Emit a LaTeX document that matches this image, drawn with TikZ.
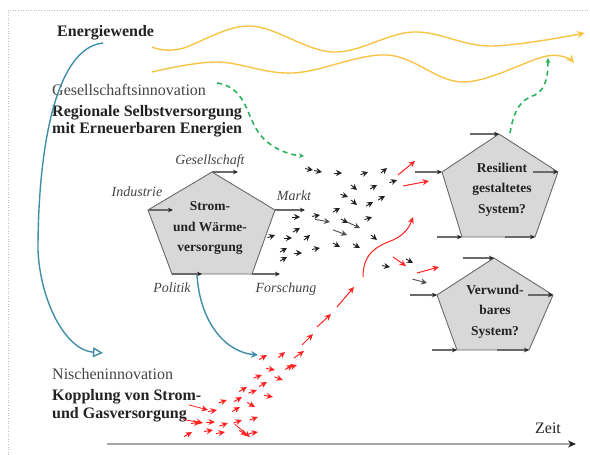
\documentclass[tikz,border=0pt]{standalone}
\usepackage{fontspec}
\setmainfont{Liberation Serif}
\usetikzlibrary{arrows.meta,calc}
\definecolor{yel}{HTML}{F8C446}
\definecolor{bluec}{HTML}{3F8FA8}
\definecolor{grn}{HTML}{2BB35A}
\definecolor{pfill}{HTML}{D8D8D8}
\definecolor{pline}{HTML}{6A6A6A}
\definecolor{txt}{HTML}{222222}
\definecolor{gtxt}{HTML}{444444}
\definecolor{redc}{HTML}{FF2020}
\tikzset{
  big/.style={font=\fontsize{16}{18}\selectfont, inner sep=0pt, anchor=base west, text=txt},
  bigb/.style={big, font=\fontsize{16}{18}\selectfont\bfseries},
  lab/.style={font=\fontsize{14}{16}\selectfont\itshape, inner sep=0pt, anchor=base, text=gtxt},
  ptxt/.style={font=\fontsize{13.5}{16}\selectfont\bfseries, inner sep=0pt, anchor=base, text=txt},
  pent/.style={draw=pline, fill=pfill, line width=0.9pt, line join=round},
  parr/.style={draw=pline, line width=1.1pt, -{Stealth[length=5pt,width=4.5pt,color=txt]}},
  blk/.style={draw=txt, line width=0.9pt, -{Stealth[length=6pt,width=6pt]}},
  redarr/.style={draw=redc, line width=1pt, -{Stealth[length=6.5pt,width=6pt]}},
  wave/.style={draw=yel, line width=1.4pt, -{Stealth[length=8pt,width=7pt]}},
  gdash/.style={draw=grn, line width=1.6pt, dash pattern=on 5pt off 4pt, -{Stealth[length=5pt,width=5pt]}},
  barc/.style={draw=bluec, line width=1.4pt}
}
\begin{document}
\begin{tikzpicture}[x=1pt,y=-1pt]
\useasboundingbox (0,0) rectangle (590,455);
% frame
\draw[dotted, draw=gray!50, line width=0.6pt] (8,455) -- (8,10) -- (590,10);

% texts
\node[bigb] (ew) at (57,36) {Energiewende};
\node[big, text=gtxt] (g1) at (52,95) {Gesellschaftsinnovation};
\node[bigb] (g2) at (52,116) {Regionale Selbstversorgung};
\node[bigb] (g3) at (52,133) {mit Erneuerbaren Energien};
\node[big, text=gtxt] (n1) at (52,379) {Nischeninnovation};
\node[bigb] (n2) at (52,400) {Kopplung von Strom-};
\node[bigb] (n3) at (52,418) {und Gasversorgung};

% yellow waves
\coordinate (w1s) at (152,47);
\coordinate (w1e) at (585,33);
\coordinate (w2s) at (152,72);
\coordinate (w2e) at (574,63);
\draw[wave] plot[smooth, tension=0.6] coordinates {(w1s) (180,49) (250,26) (333,52) (413,32) (490,46) (w1e)};
\draw[wave] plot[smooth, tension=0.6] coordinates {(w2s) (217,62) (293,73) (387,55) (463,82) (547,56) (w2e)};

% blue arcs
\coordinate (b1s) at (103,43);
\coordinate (b1e) at (103,353);
\draw[barc, -{Triangle[open,length=10pt,width=10pt]}] (b1s) .. controls (55,48) and (38,150) .. (38,250) .. controls (40,300) and (65,350) .. (b1e);

% left pentagon
\coordinate (LT) at (212,172);
\coordinate (LL) at (148,210);
\coordinate (LR) at (275,210);
\coordinate (LBL) at (172,274);
\coordinate (LBR) at (252,274);
\draw[pent] (LT) -- (LR) -- (LBR) -- (LBL) -- (LL) -- cycle;
\coordinate (LTa) at (238,172);
\coordinate (LLa) at (173,210);
\coordinate (LRa) at (305,210);
\coordinate (LBm) at (202,274);
\coordinate (LBa) at (280,274);
\draw[parr] (LT) -- (LTa);
\draw[parr] (LL) -- (LLa);
\draw[parr] (LR) -- (LRa);
\draw[parr] (LBL) -- (LBm);
\draw[parr] (LBR) -- (LBa);
\node[ptxt] (s1) at (210,210) {Strom-};
\node[ptxt] (s2) at (210,231) {und Wärme-};
\node[ptxt] (s3) at (210,251) {versorgung};
\node[lab] (lg) at (210,164) {Gesellschaft};
\node[lab] (li) at (137,196) {Industrie};
\node[lab] (lm) at (294,200) {Markt};
\node[lab] (lp) at (172,292) {Politik};
\node[lab] (lf) at (286,292) {Forschung};

% blue arc 2
\coordinate (b2s) at (197,275);
\coordinate (b2e) at (258,355);
\draw[barc, -{Stealth[length=7pt,width=7pt]}] (b2s) .. controls (200,322) and (225,352) .. (b2e);

% resilient pentagon
\coordinate (RT) at (499,134);
\coordinate (RL) at (442,172);
\coordinate (RR) at (558,172);
\coordinate (RBL) at (462,237);
\coordinate (RBR) at (535,237);
\draw[pent] (RT) -- (RR) -- (RBR) -- (RBL) -- (RL) -- cycle;
\coordinate (RTa) at (470,134);
\coordinate (RLa) at (415,172);
\coordinate (RRa) at (533,172);
\coordinate (RBa) at (437,237);
\coordinate (RBm) at (505,237);
\draw[parr] (RTa) -- (RT);
\draw[parr] (RLa) -- (RL);
\draw[parr] (RRa) -- (RR);
\draw[parr] (RBa) -- (RBL);
\draw[parr] (RBm) -- (RBR);
\node[ptxt] (r1) at (502,172) {Resilient};
\node[ptxt] (r2) at (502,192) {gestaltetes};
\node[ptxt] (r3) at (502,213) {System?};

% vulnerable pentagon
\coordinate (VT) at (494,258);
\coordinate (VL) at (437,295);
\coordinate (VR) at (553,295);
\coordinate (VBL) at (457,350);
\coordinate (VBR) at (529,350);
\draw[pent] (VT) -- (VR) -- (VBR) -- (VBL) -- (VL) -- cycle;
\coordinate (VTa) at (463,258);
\coordinate (VLa) at (410,295);
\coordinate (VRa) at (528,295);
\coordinate (VBa) at (432,350);
\coordinate (VBm) at (497,350);
\draw[parr] (VTa) -- (VT);
\draw[parr] (VLa) -- (VL);
\draw[parr] (VRa) -- (VR);
\draw[parr] (VBa) -- (VBL);
\draw[parr] (VBm) -- (VBR);
\node[ptxt] (v1) at (495,294) {Verwund-};
\node[ptxt] (v2) at (495,314) {bares};
\node[ptxt] (v3) at (495,335) {System?};

% green dashed
\coordinate (gd1s) at (217,83);
\coordinate (gd1e) at (304,156);
\draw[gdash] (gd1s) .. controls (250,88) and (245,122) .. (265,140) .. controls (276,150) and (290,155) .. (gd1e);
\coordinate (gd2s) at (510,133);
\coordinate (gd2e) at (548,58);
\draw[gdash] (gd2s) .. controls (514,110) and (520,100) .. (535,95) .. controls (546,89) and (548,76) .. (gd2e);

% black arrow cloud
\foreach \x/\y/\a in {313/170/10, 322/172/10, 342/173/0, 368/172/-20, 387/168/-40,
  357/190/40, 377/185/-30, 397/180/-20, 348/197/20, 357/205/40, 373/202/-30, 385/196/-30,
  340/208/-30, 300/217/0, 320/215/-10, 348/223/30, 372/217/-20, 300/228/-30,
  310/235/-40, 275/235/-20, 292/238/0, 287/248/-30, 302/253/0, 320/248/-10, 340/247/30,
  360/248/30, 377/240/40, 287/257/-30, 390/267/10, 413/263/30}
  \draw[blk] ($(\x,\y)+(\a+180:8)$) -- (\x,\y);
\foreach \x/\y/\a in {330/222/10, 347/235/20, 427/283/15, 360/228/25}
  \draw[blk, draw=txt!80] ($(\x,\y)+(\a+180:15)$) -- (\x,\y);

% red arrows toward outputs
\draw[redarr] (398,175) -- (415,161);
\draw[redarr] (403,186) -- (429,181);
\draw[redarr] (393,257) -- (406,266);
\draw[redarr] (417,273) -- (439,267);

% red rising curve
\coordinate (rcs) at (363,277);
\coordinate (rce) at (413,217);
\draw[redarr] (rcs) .. controls (363,252) and (378,246) .. (393,240) .. controls (404,235) and (409,228) .. (rce);

% red chain
\draw[redarr] (337,307) -- (354,287);
\draw[redarr] (317,327) -- (331,314);
\draw[redarr] (302,345) -- (313,334);
\draw[redarr] (294,358) -- (304,351);
\draw[redarr] (287,368) -- (297,365);

% red cluster
\foreach \x/\y/\a in {267/355/-30, 285/352/-40, 275/370/10, 293/365/-30, 262/375/-20,
  267/382/-30, 283/380/20, 247/387/-30, 257/390/-20, 273/397/10, 227/400/-20, 242/397/-30,
  217/410/-10, 240/407/-30, 255/407/30, 200/422/-10, 215/422/0, 228/423/-20,
  242/420/-20, 258/417/-20, 192/432/-30, 213/430/-10, 225/432/-10, 247/435/30, 258/432/-10}
  \draw[redarr] ($(\x,\y)+(\a+180:9)$) -- (\x,\y);
\foreach \x/\y/\a in {208/410/15, 203/423/10, 250/437/40}
  \draw[redarr, line width=0.8pt] ($(\x,\y)+(\a+180:20)$) -- (\x,\y);

% time axis
\coordinate (ts) at (107,444);
\coordinate (te) at (576,444);
\draw[draw=gray!70, line width=1.3pt, -{Stealth[length=8pt,width=7pt,color=txt]}] (ts) -- (te);
\node[big, anchor=base] (zeit) at (548,433) {Zeit};
\end{tikzpicture}
\end{document}
